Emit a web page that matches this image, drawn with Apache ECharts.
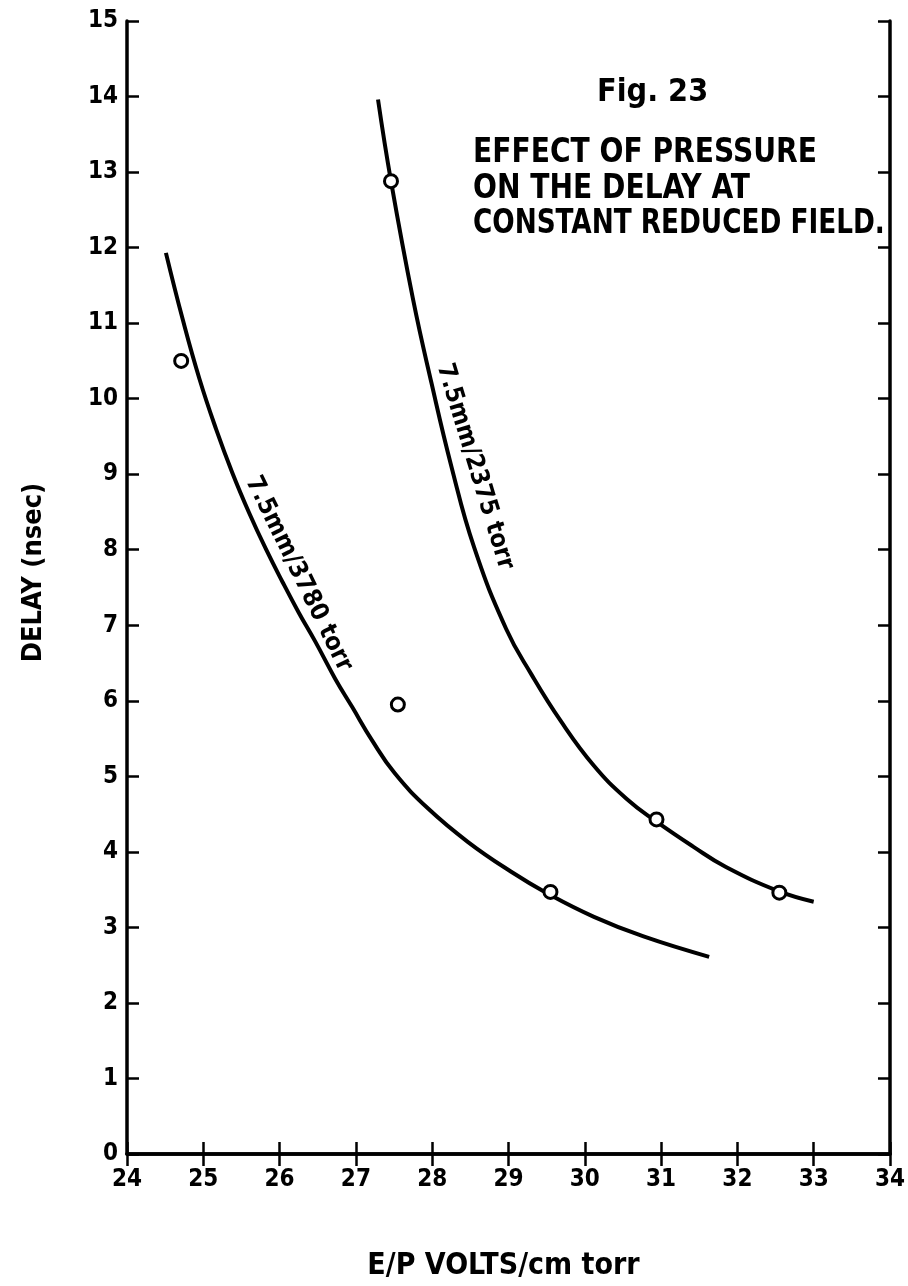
<!DOCTYPE html>
<html><head><meta charset="utf-8">
<script src="https://cdn.jsdelivr.net/npm/echarts@6/dist/echarts.min.js"></script>
<style>html,body{margin:0;padding:0;background:#fff}#c{width:908px;height:1286px}</style>
</head><body><div id="c"></div>
<script>
// ---- data ----
const xRange = [24, 34];
const yRange = [0, 15];
const curve3780 = [[24.51,11.93],[24.73,11.05],[24.95,10.26],[25.17,9.59],[25.38,9.02],[25.60,8.49],[25.82,8.01],[26.04,7.57],[26.25,7.17],[26.47,6.78],[26.73,6.29],[26.95,5.92],[27.21,5.48],[27.51,5.04],[27.95,4.57],[28.47,4.13],[29.03,3.74],[29.51,3.45],[30.12,3.14],[30.77,2.88],[31.63,2.61]];
const points3780 = [[24.71,10.50],[27.55,5.95],[29.55,3.47]];
const curve2375 = [[27.29,13.96],[27.46,12.88],[27.75,11.31],[27.99,10.21],[28.25,9.11],[28.55,8.03],[28.97,6.95],[29.30,6.35],[29.68,5.74],[30.12,5.14],[30.55,4.70],[30.94,4.40],[31.42,4.07],[31.85,3.80],[32.54,3.48],[33.00,3.34]];
const points2375 = [[27.46,12.88],[30.94,4.43],[32.55,3.46]];
const label3780 = '7.5mm/3780 torr';
const label2375 = '7.5mm/2375 torr';
const xTitle = 'E/P VOLTS/cm torr';
const yTitle = 'DELAY (nsec)';
const figTitle = 'Fig. 23';
const captionLines = ['EFFECT OF PRESSURE', 'ON THE DELAY AT', 'CONSTANT REDUCED FIELD.'];

const FONT = "'DejaVu Sans Condensed','Liberation Sans Narrow','DejaVu Sans',sans-serif";
const chart = echarts.init(document.getElementById('c'), null, {renderer:'canvas'});
const axisLine = {show:true, lineStyle:{color:'#000', width:3.5}};
const tick = {show:true, inside:true, length:12, lineStyle:{color:'#000', width:2.5}};
const lab = {color:'#000', fontFamily:FONT, fontWeight:'bold', fontSize:24};
const option = {
  backgroundColor:'#fff',
  animation:false,
  grid:{left:127, right:14, top:21, bottom:130},
  xAxis:[
    {type:'value', min:xRange[0], max:xRange[1], interval:1, position:'bottom',
     axisLine, axisTick:tick, splitLine:{show:false},
     axisLabel:Object.assign({margin:14}, lab),
     name:xTitle, nameLocation:'middle', nameGap:97,
     nameTextStyle:{color:'#000', fontFamily:FONT, fontWeight:'bold', fontSize:30, padding:[0,10,0,0]}},
    {type:'value', min:xRange[0], max:xRange[1], interval:1, position:'top',
     axisLine, axisTick:tick, axisLabel:{show:false}, splitLine:{show:false}}
  ],
  yAxis:[
    {type:'value', min:yRange[0], max:yRange[1], interval:1, position:'left',
     axisLine, axisTick:tick, splitLine:{show:false},
     axisLabel:Object.assign({margin:9}, lab),
     name:yTitle, nameLocation:'middle', nameGap:80, nameRotate:90,
     nameTextStyle:{color:'#000', fontFamily:FONT, fontWeight:'bold', fontSize:27, padding:[0,0,0,30]}},
    {type:'value', min:yRange[0], max:yRange[1], interval:1, position:'right',
     axisLine, axisTick:tick, axisLabel:{show:false}, splitLine:{show:false}}
  ],
  series:[
    {type:'line', data:curve3780, smooth:0.45, showSymbol:false, lineStyle:{color:'#000', width:4}, z:2},
    {type:'line', data:curve2375, smooth:0.45, showSymbol:false, lineStyle:{color:'#000', width:4}, z:2},
    {type:'scatter', data:points3780.concat(points2375), symbol:'circle', symbolSize:13,
     itemStyle:{color:'#fff', borderColor:'#000', borderWidth:3, opacity:1}, z:5}
  ]
};
chart.setOption(option);

const p1 = chart.convertToPixel({gridIndex:0}, [26.25, 7.68]);
const p2 = chart.convertToPixel({gridIndex:0}, [28.56, 9.10]);
const tstyle = (t, fs) => ({text:t, fill:'#000', fontFamily:FONT, fontWeight:'bold', fontSize:fs});
chart.setOption({graphic:[
  {type:'text', x:p1[0], y:p1[1], rotation:-63.9*Math.PI/180,
   style:Object.assign(tstyle(label3780, 25), {align:'center', verticalAlign:'middle'})},
  {type:'text', x:p2[0], y:p2[1], rotation:-73*Math.PI/180,
   style:Object.assign(tstyle(label2375, 25), {align:'center', verticalAlign:'middle'})},
  {type:'text', x:597, y:93, style:Object.assign(tstyle(figTitle, 32), {verticalAlign:'middle'})},
  {type:'text', x:473, y:153, scaleX:0.92, style:Object.assign(tstyle(captionLines[0], 34), {verticalAlign:'middle'})},
  {type:'text', x:473, y:189, scaleX:0.92, style:Object.assign(tstyle(captionLines[1], 34), {verticalAlign:'middle'})},
  {type:'text', x:473, y:224, scaleX:0.86, style:Object.assign(tstyle(captionLines[2], 34), {verticalAlign:'middle'})}
]});
</script></body></html>
